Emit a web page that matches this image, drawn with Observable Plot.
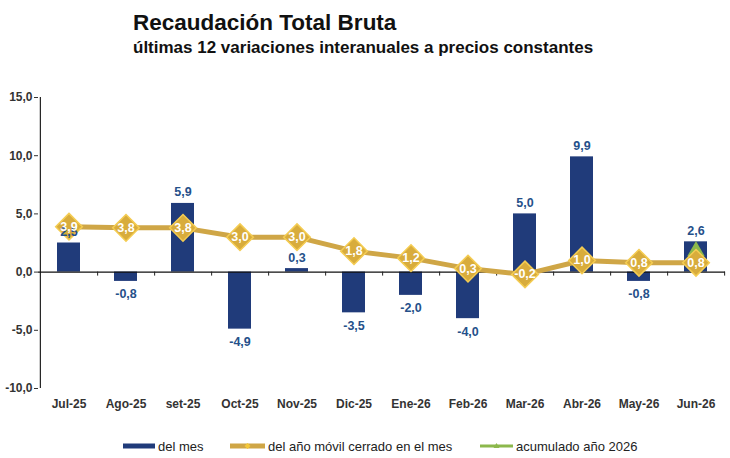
<!DOCTYPE html>
<html>
<head>
<meta charset="utf-8">
<script src="https://cdn.jsdelivr.net/npm/d3@7"></script>
<script src="https://cdn.jsdelivr.net/npm/@observablehq/plot@0.6"></script>
<style>
  html, body { margin: 0; padding: 0; background: #fff; }
  body { width: 730px; height: 458px; position: relative; overflow: hidden;
         font-family: "Liberation Sans", Arial, sans-serif; }
  .title { position: absolute; left: 133px; top: 10px; font-size: 22.5px; font-weight: bold; color: #111; white-space: nowrap; }
  .subtitle { position: absolute; left: 133px; top: 38px; font-size: 17px; font-weight: bold; color: #111; white-space: nowrap; }
  #chart { position: absolute; left: 0; top: 75px; }
  .legend { position: absolute; top: 438px; left: 0; width: 730px; height: 16px; font-size: 13px; color: #222; }
  .legend .item { position: absolute; top: 0; display: flex; align-items: center; height: 16px; white-space: nowrap; }
  .legend svg { margin-right: 3px; }
</style>
</head>
<body>
<div class="title">Recaudación Total Bruta</div>
<div class="subtitle">últimas 12 variaciones interanuales a precios constantes</div>
<div id="chart"></div>
<div class="legend" id="legend"></div>
<script>
// Monthly labels (Spanish abbreviations)
const months = ["Jul-25", "Ago-25", "set-25", "Oct-25", "Nov-25", "Dic-25",
                "Ene-26", "Feb-26", "Mar-26", "Abr-26", "May-26", "Jun-26"];
// Year-on-year change of the month (%)
const delMes = [2.5, -0.8, 5.9, -4.9, 0.3, -3.5, -2.0, -4.0, 5.0, 9.9, -0.8, 2.6];
// Rolling 12-month change closed in the month (%)
const anioMovil = [3.9, 3.8, 3.8, 3.0, 3.0, 1.8, 1.2, 0.3, -0.2, 1.0, 0.8, 0.8];
// Accumulated 2026 change (only the latest month shown)
const acumMes = ["Jun-26"];
const acumValor = [1.8];
// Y axis ticks
const yTicks = [-10, -5, 0, 5, 10, 15];

const seriesNames = ["del mes", "del año móvil cerrado en el mes", "acumulado año 2026"];
const colors = { bar: "#203B7A", barLabel: "#25508A", line: "#CFA646", diamond: "#D8AC3C", diamondEdge: "#F4CC52", acum: "#8CB84C" };

const fmt = d => d3.format(".1f")(d).replace(".", ",").replace("−", "-");

const barData = months.map((m, i) => ({ month: m, value: delMes[i] }));
const lineData = months.map((m, i) => ({ month: m, value: anioMovil[i] }));
const acumData = acumMes.map((m, i) => ({ month: m, value: acumValor[i] }));

const W = 730, H = 345, mL = 38, mR = 5, mT = 22, mB = 32;
const step = (W - mL - mR) / months.length;

const chart = Plot.plot({
  width: W,
  height: H,
  marginLeft: mL,
  marginRight: mR,
  marginTop: mT,
  marginBottom: mB,
  style: { fontFamily: "'Liberation Sans', Arial, sans-serif", background: "transparent" },
  x: { type: "band", domain: months, padding: 0 },
  y: { domain: [d3.min(yTicks), d3.max(yTicks)] },
  marks: [
    // category labels along the bottom
    Plot.axisX({ tickSize: 0, tickPadding: 11, fontSize: 12, fontWeight: "bold", color: "#333", label: null }),
    // value axis
    Plot.axisY({ ticks: yTicks, tickFormat: fmt, tickSize: 4, tickPadding: 2, fontSize: 12, fontWeight: "bold", color: "#333", label: null }),
    // vertical axis line
    Plot.ruleX([months[0]], { x: d => d, y1: d3.min(yTicks), y2: d3.max(yTicks), dx: -step / 2, stroke: "#222", strokeWidth: 1.2 }),
    // monthly bars
    Plot.barY(barData, { x: "month", y: "value", fill: colors.bar, insetLeft: 17, insetRight: 17 }),
    // zero line with category separators
    Plot.ruleY([0], { stroke: "#111", strokeWidth: 1.2 }),
    Plot.ruleX(months, { x: d => d, y1: 0, y2: 0, dx: step / 2, insetBottom: -4, stroke: "#222", strokeWidth: 1 }),
    // rolling-year line
    Plot.line(lineData, { x: "month", y: "value", stroke: colors.line, strokeWidth: 5, strokeLinejoin: "round", strokeLinecap: "round" }),
    // accumulated 2026 marker
    Plot.dot(acumData, { x: "month", y: "value", symbol: "triangle", r: 6.5, fill: colors.acum }),
    Plot.dot(lineData, { x: "month", y: "value", symbol: "diamond2", r: 12, fill: colors.diamond, stroke: colors.diamondEdge, strokeWidth: 1.5 }),
    // bar value labels
    Plot.text(barData.filter(d => d.value >= 0), { x: "month", y: "value", text: d => fmt(d.value), dy: -11, fill: colors.barLabel, fontSize: 12.5, fontWeight: "bold" }),
    Plot.text(barData.filter(d => d.value < 0), { x: "month", y: "value", text: d => fmt(d.value), dy: 13, fill: colors.barLabel, fontSize: 12.5, fontWeight: "bold" }),
    // rolling-year value labels
    Plot.text(lineData, { x: "month", y: "value", text: d => fmt(d.value), fill: "#fff", fontSize: 12.5, fontWeight: "bold" })
  ]
});
document.getElementById("chart").appendChild(chart);

// Legend
const legend = document.getElementById("legend");
const swatches = [
  { left: 123, w: 32, draw: `<line x1="0" y1="8" x2="32" y2="8" stroke="${colors.bar}" stroke-width="5"/>` },
  { left: 230, w: 35, draw: `<line x1="0" y1="8" x2="35" y2="8" stroke="${colors.line}" stroke-width="5" stroke-linecap="round"/><path d="M17.5 5 L20.5 8 L17.5 11 L14.5 8 Z" fill="#F4C83A"/>` },
  { left: 480, w: 33, draw: `<line x1="0" y1="8" x2="33" y2="8" stroke="${colors.acum}" stroke-width="3"/><path d="M16.5 5 L19.5 10 L13.5 10 Z" fill="${colors.acum}"/>` }
];
seriesNames.forEach((name, i) => {
  const s = swatches[i];
  const item = document.createElement("div");
  item.className = "item";
  item.style.left = s.left + "px";
  item.innerHTML = `<svg width="${s.w}" height="16">${s.draw}</svg><span>${name}</span>`;
  legend.appendChild(item);
});
</script>
</body>
</html>
